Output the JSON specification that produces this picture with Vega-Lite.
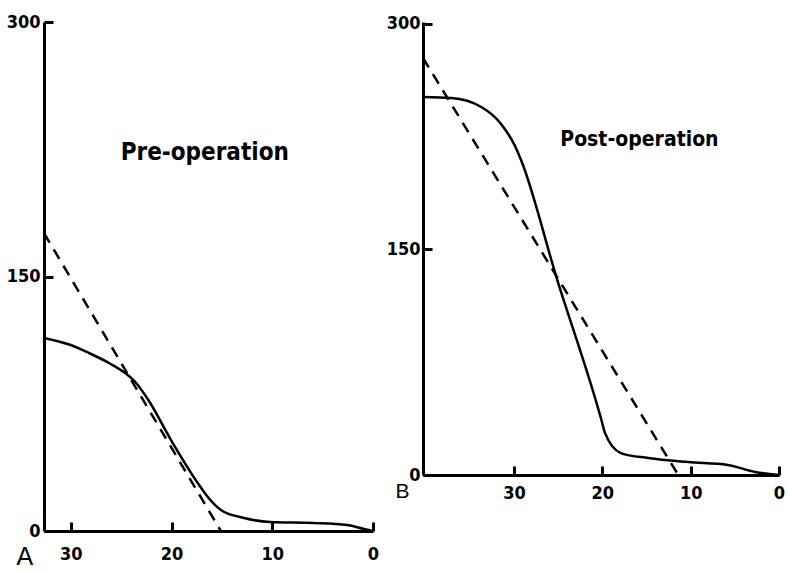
{
  "$schema": "https://vega.github.io/schema/vega-lite/v6.json",
  "background": "white",
  "padding": {"left": 6, "top": 13, "right": 0, "bottom": 0},
  "spacing": 7,
  "config": {
    "view": {"stroke": null},
    "axis": {
      "grid": false,
      "domainColor": "black",
      "domainWidth": 3,
      "tickColor": "black",
      "tickWidth": 3,
      "tickSize": -9,
      "labelColor": "black",
      "labelFont": "DejaVu Sans Condensed, sans-serif",
      "labelFontWeight": "bold",
      "labelFontSize": 18,
      "titleColor": "black",
      "titleFont": "Liberation Sans, DejaVu Sans, sans-serif",
      "titleFontWeight": "normal"
    }
  },
  "datasets": {
    "pre": [
      {"series": "measured", "time": 32.66, "value": 113.8},
      {"series": "measured", "time": 30, "value": 109.6},
      {"series": "measured", "time": 28.2, "value": 104.9},
      {"series": "measured", "time": 26.2, "value": 99},
      {"series": "measured", "time": 24.6, "value": 93.1},
      {"series": "measured", "time": 23.6, "value": 87.8},
      {"series": "measured", "time": 22.3, "value": 77.2},
      {"series": "measured", "time": 20.05, "value": 53.6},
      {"series": "measured", "time": 17.4, "value": 28.3},
      {"series": "measured", "time": 16.4, "value": 20},
      {"series": "measured", "time": 15.1, "value": 12.4},
      {"series": "measured", "time": 12.8, "value": 7.7},
      {"series": "measured", "time": 10.2, "value": 5.3},
      {"series": "measured", "time": 5.9, "value": 4.7},
      {"series": "measured", "time": 2.6, "value": 3.5},
      {"series": "measured", "time": 0.9, "value": 1.2},
      {"series": "measured", "time": 0, "value": 0},
      {"series": "fit", "time": 32.66, "value": 175.6},
      {"series": "fit", "time": 15.1, "value": 0}
    ],
    "post": [
      {"series": "measured", "time": 40.3, "value": 251.4},
      {"series": "measured", "time": 37.1, "value": 250.8},
      {"series": "measured", "time": 33.7, "value": 244.8},
      {"series": "measured", "time": 31.6, "value": 234.5},
      {"series": "measured", "time": 29.9, "value": 219},
      {"series": "measured", "time": 29.2, "value": 209.5},
      {"series": "measured", "time": 25.2, "value": 131.7},
      {"series": "measured", "time": 20.1, "value": 36.6},
      {"series": "measured", "time": 19.7, "value": 28},
      {"series": "measured", "time": 17.9, "value": 14.6},
      {"series": "measured", "time": 14.8, "value": 11.3},
      {"series": "measured", "time": 10.3, "value": 8.6},
      {"series": "measured", "time": 5.8, "value": 6.7},
      {"series": "measured", "time": 2.7, "value": 2},
      {"series": "measured", "time": 0, "value": 0},
      {"series": "fit", "time": 40.3, "value": 277.4},
      {"series": "fit", "time": 11.4, "value": 0}
    ],
    "labels": [
      {"panel": "pre", "label": "Pre-operation", "time": 16.7, "value": 222.8},
      {"panel": "post", "label": "Post-operation", "time": 15.8, "value": 222.8}
    ]
  },
  "hconcat": [
    {
      "width": 329,
      "height": 509,
      "layer": [
        {
          "data": {"name": "pre"},
          "transform": [{"filter": "datum.series === 'measured'"}],
          "mark": {"type": "line", "color": "black", "strokeWidth": 2.5, "interpolate": "monotone", "clip": false},
          "encoding": {
            "x": {"field": "time", "type": "quantitative", "scale": {"domain": [32.66, 0], "nice": false},
              "axis": {"values": [30, 20, 10, 0], "labelPadding": 23, "labelFlush": false, "title": "A", "titleX": -28, "titleY": 33, "titleAlign": "left", "titleBaseline": "alphabetic", "titleFontSize": 25}},
            "y": {"field": "value", "type": "quantitative", "scale": {"domain": [0, 300], "nice": false},
              "axis": {"values": [0, 150, 300], "labelPadding": 13, "title": null}}
          }
        },
        {
          "data": {"name": "pre"},
          "transform": [{"filter": "datum.series === 'fit'"}],
          "mark": {"type": "line", "color": "black", "strokeWidth": 2.5, "strokeDash": [11, 8], "clip": false},
          "encoding": {
            "x": {"field": "time", "type": "quantitative"},
            "y": {"field": "value", "type": "quantitative"}
          }
        },
        {
          "data": {"name": "labels"},
          "transform": [{"filter": "datum.panel === 'pre'"}],
          "mark": {"type": "text", "font": "DejaVu Sans Condensed, sans-serif", "fontWeight": "bold", "fontSize": 24, "color": "black", "baseline": "middle", "align": "center"},
          "encoding": {
            "x": {"field": "time", "type": "quantitative"},
            "y": {"field": "value", "type": "quantitative"},
            "text": {"field": "label"}
          }
        }
      ]
    },
    {
      "width": 356,
      "height": 453,
      "layer": [
        {
          "data": {"name": "post"},
          "transform": [{"filter": "datum.series === 'measured'"}],
          "mark": {"type": "line", "color": "black", "strokeWidth": 2.5, "interpolate": "monotone", "clip": false},
          "encoding": {
            "x": {"field": "time", "type": "quantitative", "scale": {"domain": [40.3, 0], "nice": false},
              "axis": {"values": [30, 20, 10, 0], "labelPadding": 18, "labelFlush": false, "title": "B", "titleX": -28, "titleY": 22, "titleAlign": "left", "titleBaseline": "alphabetic", "titleFontSize": 21}},
            "y": {"field": "value", "type": "quantitative", "scale": {"domain": [0, 301.33], "nice": false},
              "axis": {"values": [0, 150, 300], "labelPadding": 12, "title": null}}
          }
        },
        {
          "data": {"name": "post"},
          "transform": [{"filter": "datum.series === 'fit'"}],
          "mark": {"type": "line", "color": "black", "strokeWidth": 2.5, "strokeDash": [11, 8], "clip": false},
          "encoding": {
            "x": {"field": "time", "type": "quantitative"},
            "y": {"field": "value", "type": "quantitative"}
          }
        },
        {
          "data": {"name": "labels"},
          "transform": [{"filter": "datum.panel === 'post'"}],
          "mark": {"type": "text", "font": "DejaVu Sans Condensed, sans-serif", "fontWeight": "bold", "fontSize": 21, "color": "black", "baseline": "middle", "align": "center"},
          "encoding": {
            "x": {"field": "time", "type": "quantitative"},
            "y": {"field": "value", "type": "quantitative"},
            "text": {"field": "label"}
          }
        }
      ]
    }
  ]
}
